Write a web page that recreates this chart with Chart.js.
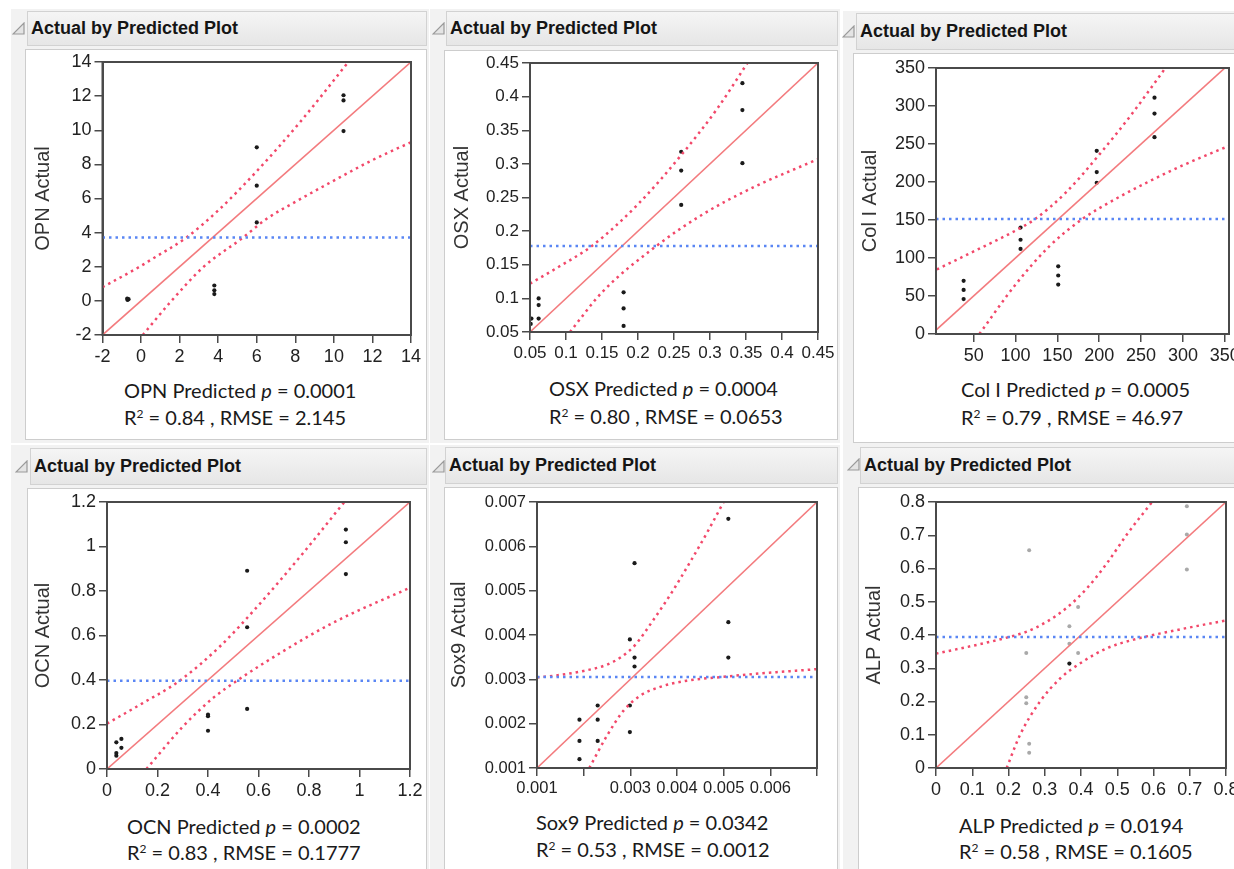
<!DOCTYPE html>
<html lang="en">
<head>
<meta charset="UTF-8">
<title>Actual by Predicted Plots</title>
<script src="https://cdn.jsdelivr.net/npm/chart.js"></script>
<style>
  body { margin:0; background:#fff; width:1234px; height:869px; overflow:hidden; position:relative; font-family:'Liberation Sans', Arial, sans-serif; }
  .outer { position:absolute; background:#f2f2f2; }
  .head { position:absolute; box-sizing:border-box; border:1px solid #d2d2d2; background:linear-gradient(#f5f5f5,#e6e6e6); font-weight:bold; font-size:18px; color:#151515; padding-left:3px; }
  .box { position:absolute; box-sizing:border-box; background:#fff; border:1px solid #cdcdcd; }
  .tri { position:absolute; }
  canvas { position:absolute; }
  .stat { position:absolute; font-family:Lato, 'Open Sans', sans-serif; font-size:20px; line-height:20px; color:#1a1a1a; white-space:nowrap; }
  .stat sup { font-size:12px; line-height:0; vertical-align:7px; }
</style>
</head>
<body>
  <!-- top row -->
  <div class="outer" style="left:11px;top:9px;width:418px;height:434px"></div>
  <div class="outer" style="left:430px;top:9px;width:410px;height:434px"></div>
  <div class="outer" style="left:843px;top:11px;width:400px;height:434px"></div>
  <!-- bottom row -->
  <div class="outer" style="left:11px;top:445px;width:418px;height:430px"></div>
  <div class="outer" style="left:430px;top:445px;width:410px;height:430px"></div>
  <div class="outer" style="left:843px;top:445px;width:400px;height:430px"></div>

  <div class="head" style="left:27px;top:11px;width:400px;height:35px;line-height:33px">Actual by Predicted Plot</div>
  <div class="head" style="left:446px;top:11px;width:392px;height:35px;line-height:33px">Actual by Predicted Plot</div>
  <div class="head" style="left:856px;top:13px;width:390px;height:37px;line-height:35px">Actual by Predicted Plot</div>
  <div class="head" style="left:30px;top:448px;width:397px;height:37px;line-height:35px">Actual by Predicted Plot</div>
  <div class="head" style="left:445px;top:447px;width:393px;height:37px;line-height:35px">Actual by Predicted Plot</div>
  <div class="head" style="left:860px;top:447px;width:390px;height:37px;line-height:35px">Actual by Predicted Plot</div>

  <div class="box" style="left:25px;top:49px;width:402px;height:391px"></div>
  <div class="box" style="left:444px;top:50px;width:394px;height:390px"></div>
  <div class="box" style="left:853px;top:53px;width:400px;height:390px"></div>
  <div class="box" style="left:27px;top:488px;width:400px;height:400px"></div>
  <div class="box" style="left:444px;top:487px;width:394px;height:400px"></div>
  <div class="box" style="left:858px;top:487px;width:400px;height:400px"></div>

  <div class="stat" style="left:124px;top:380px">OPN Predicted <i>p</i> = 0.0001</div>
  <div class="stat" style="left:124px;top:407px">R<sup>2</sup> = 0.84 , RMSE = 2.145</div>
  <div class="stat" style="left:549px;top:378px">OSX Predicted <i>p</i> = 0.0004</div>
  <div class="stat" style="left:549px;top:406px">R<sup>2</sup> = 0.80 , RMSE = 0.0653</div>
  <div class="stat" style="left:961px;top:379px">Col I Predicted <i>p</i> = 0.0005</div>
  <div class="stat" style="left:961px;top:407px">R<sup>2</sup> = 0.79 , RMSE = 46.97</div>
  <div class="stat" style="left:127px;top:816px">OCN Predicted <i>p</i> = 0.0002</div>
  <div class="stat" style="left:127px;top:842px">R<sup>2</sup> = 0.83 , RMSE = 0.1777</div>
  <div class="stat" style="left:536px;top:812px">Sox9 Predicted <i>p</i> = 0.0342</div>
  <div class="stat" style="left:536px;top:839px">R<sup>2</sup> = 0.53 , RMSE = 0.0012</div>
  <div class="stat" style="left:959px;top:815px">ALP Predicted <i>p</i> = 0.0194</div>
  <div class="stat" style="left:959px;top:841px">R<sup>2</sup> = 0.58 , RMSE = 0.1605</div>

  <script>
    // ---- OPN ----
    const opnTicks = [-2, 0, 2, 4, 6, 8, 10, 12, 14];
    const opnPoints = [[-0.7,0.05],[-0.65,0.1],[-0.72,0.13],[3.8,0.9],[3.8,0.62],[3.8,0.4],
                       [6.0,9.0],[6.0,6.75],[6.0,4.6],[10.5,12.05],[10.5,11.75],[10.5,9.95]];
    const opnUpper = [[-2,0.8],[0,2.05],[0.5,2.4],[2.36,3.72],[4,5.3],[6,7.6],[8.3,10.55],[10.75,14]];
    const opnLower = [[0.09,-2],[1.5,-0.1],[3.2,1.95],[5.3,3.72],[6.5,4.8],[8,5.8],[10,7.05],[12,8.25],[14,9.3]];
    const opnMean = 3.72;

    // ---- OSX ----
    const osxTicks = [0.05, 0.1, 0.15, 0.2, 0.25, 0.3, 0.35, 0.4, 0.45];
    const osxPoints = [[0.062,0.100],[0.062,0.090],[0.062,0.070],[0.052,0.070],[0.051,0.062],
                       [0.18,0.109],[0.18,0.085],[0.18,0.059],[0.26,0.318],[0.26,0.29],[0.26,0.239],
                       [0.345,0.42],[0.345,0.38],[0.345,0.301]];
    const osxUpper = [[0.05,0.122],[0.09,0.147],[0.136,0.178],[0.2,0.24],[0.26,0.313],[0.31,0.382],[0.352,0.45]];
    const osxLower = [[0.1055,0.05],[0.15,0.109],[0.2257,0.178],[0.29,0.225],[0.36,0.265],[0.45,0.307]];
    const osxMean = 0.178;

    // ---- Col I ----
    const colXTicks = [50, 100, 150, 200, 250, 300, 350];
    const colYTicks = [0, 50, 100, 150, 200, 250, 300, 350];
    const colPoints = [[38,70],[38,58],[38,46],[106,140],[106,124],[106,112],[151,89],[151,77],[151,65],
                       [197,241],[197,213],[197,199],[266,311],[266,290],[266,259]];
    const colUpper = [[6,85],[60,114],[100,136],[123.5,151.4],[160,186],[200,236],[240,291],[279,350]];
    const colLower = [[56.8,0],[100,65],[140,115],[180,151.4],[220,178],[260,201],[300,222],[356,248]];
    const colMean = 151.4;

    // ---- OCN ----
    const ocnTicks = [0, 0.2, 0.4, 0.6, 0.8, 1, 1.2];
    const ocnPoints = [[0.037,0.12],[0.057,0.135],[0.057,0.095],[0.037,0.072],[0.037,0.06],
                       [0.4,0.244],[0.4,0.237],[0.4,0.172],[0.555,0.891],[0.555,0.637],[0.555,0.27],
                       [0.946,1.076],[0.946,1.019],[0.946,0.876]];
    const ocnUpper = [[0,0.204],[0.14,0.295],[0.288,0.397],[0.45,0.554],[0.6,0.736],[0.78,0.975],[0.94,1.2]];
    const ocnLower = [[0.156,0],[0.3,0.19],[0.42,0.319],[0.515,0.397],[0.7,0.531],[0.9,0.66],[1.2,0.815]];
    const ocnMean = 0.397;

    // ---- Sox9 ----
    const soxTicks = [0.001, 0.002, 0.003, 0.004, 0.005, 0.006, 0.007];
    const soxXLabels = ['0.001', '', '0.003', '0.004', '0.005', '0.006', ''];
    const soxPoints = [[0.00191,0.00209],[0.00191,0.00161],[0.00191,0.0012],[0.0023,0.00241],[0.0023,0.00209],
                       [0.0023,0.00161],[0.00299,0.0039],[0.00299,0.00241],[0.00299,0.00181],[0.00309,0.00562],
                       [0.00309,0.00349],[0.00309,0.00329],[0.0051,0.00662],[0.0051,0.00429],[0.0051,0.00349]];
    const soxUpper = [[0.001,0.00304],[0.0015,0.0031],[0.002,0.00319],[0.0025,0.00333],[0.0028,0.0035],
                      [0.0031,0.00377],[0.0035,0.00435],[0.0039,0.00498],[0.0043,0.00568],[0.00465,0.00632],[0.005,0.007]];
    const soxLower = [[0.00212,0.001],[0.0025,0.00173],[0.00286,0.0023],[0.00321,0.00263],[0.00364,0.00283],
                      [0.00421,0.00297],[0.00493,0.00305],[0.00564,0.00312],[0.007,0.00323]];
    const soxMean = 0.00305;

    // ---- ALP ----
    const alpTicks = [0, 0.1, 0.2, 0.3, 0.4, 0.5, 0.6, 0.7, 0.8];
    const alpPoints = [[0.368,0.314]];
    const alpExcluded = [[0.257,0.655],[0.249,0.346],[0.249,0.213],[0.249,0.195],[0.257,0.073],[0.257,0.046],
                         [0.368,0.426],[0.368,0.374],[0.392,0.484],[0.392,0.346],
                         [0.692,0.787],[0.692,0.702],[0.692,0.597]];
    const alpUpper = [[0,0.344],[0.103,0.368],[0.195,0.392],[0.25,0.41],[0.306,0.44],[0.361,0.482],
                      [0.416,0.54],[0.471,0.615],[0.527,0.703],[0.596,0.8]];
    const alpLower = [[0.195,0],[0.232,0.1],[0.287,0.2],[0.343,0.27],[0.398,0.315],[0.471,0.36],
                      [0.545,0.386],[0.656,0.413],[0.8,0.444]];
    const alpMean = 0.394;

    const xy = a => a.map(p => ({ x: p[0], y: p[1] }));
    const fmt = v => String(parseFloat(v.toFixed(6)));

    // dark frame round the plot area
    const frame = {
      id: 'frame',
      afterDraw(c) {
        const a = c.chartArea, ctx = c.ctx;
        ctx.save();
        ctx.strokeStyle = '#4a4a4a';
        ctx.lineWidth = 2;
        ctx.strokeRect(a.left, a.top, a.right - a.left, a.bottom - a.top);
        ctx.restore();
      }
    };

    function panel(p) {
      const [L, T, R, B] = p.plot;
      const yW = p.gap + 12;
      const cv = document.createElement('canvas');
      cv.width = R - L + yW + 20;
      cv.height = B - T + 14 + 40;
      cv.style.left = (L - yW) + 'px';
      cv.style.top = (T - 14) + 'px';
      document.body.appendChild(cv);

      const tickFont = { family: "'Liberation Sans', Arial, sans-serif", size: p.tickSize || 18 };
      const dotted = { borderWidth: 2.5, borderDash: [2.5, 4], pointRadius: 0, fill: false };
      const xLabels = p.xLabels || p.xTicks.map(fmt);
      const yLabels = p.yTicks.map(fmt);

      const datasets = [
        { type: 'line', data: xy([[p.xMin, p.mean], [p.xMax, p.mean]]), borderColor: '#5a86f4', ...dotted },
        { type: 'line', data: xy([[p.xMin, p.xMin], [p.xMax, p.xMax]]), borderColor: '#f37b7e', borderWidth: 1.6, pointRadius: 0 },
        { type: 'line', data: xy(p.upper), borderColor: '#f2486a', cubicInterpolationMode: 'monotone', ...dotted },
        { type: 'line', data: xy(p.lower), borderColor: '#f2486a', cubicInterpolationMode: 'monotone', ...dotted },
      ];
      if (p.grey) datasets.push({ data: xy(p.grey), backgroundColor: '#a9a9a9', pointRadius: 2, borderWidth: 0 });
      datasets.push({ data: xy(p.points), backgroundColor: '#1a1a1a', pointRadius: 2.1, borderWidth: 0 });

      new Chart(cv.getContext('2d'), {
        type: 'scatter',
        data: { datasets },
        options: {
          responsive: false, animation: false, events: [],
          layout: { padding: { top: 14, right: 20, left: 0, bottom: 0 } },
          plugins: { legend: { display: false }, tooltip: { enabled: false } },
          scales: {
            x: {
              type: 'linear', min: p.xMin, max: p.xMax,
              afterBuildTicks: s => { s.ticks = p.xTicks.map(v => ({ value: v })); },
              afterFit: s => { s.height = 40; },
              ticks: { autoSkip: false, maxRotation: 0, padding: 3, color: '#222', font: tickFont,
                       callback: (v, i) => xLabels[i] },
              grid: { drawOnChartArea: false, tickLength: 8, color: '#4a4a4a', lineWidth: 1.5 },
              border: { color: '#4a4a4a', width: 2 }
            },
            y: {
              type: 'linear', min: p.yMin, max: p.yMax,
              afterBuildTicks: s => { s.ticks = p.yTicks.map(v => ({ value: v })); },
              afterFit: s => { s.width = yW; },
              ticks: { autoSkip: false, padding: 3, color: '#222', font: tickFont,
                       callback: (v, i) => yLabels[i] },
              grid: { drawOnChartArea: false, tickLength: 8, color: '#4a4a4a', lineWidth: 1.5 },
              border: { color: '#4a4a4a', width: 2 },
              title: { display: true, text: p.title, color: '#333', padding: 0,
                       font: { family: "'Liberation Sans', Arial, sans-serif", size: 20 } }
            }
          }
        },
        plugins: [frame]
      });
    }

    panel({ plot: [102, 62, 411, 335], gap: 59.5, title: 'OPN Actual',
            xMin: -2, xMax: 14, yMin: -2, yMax: 14, xTicks: opnTicks, yTicks: opnTicks,
            points: opnPoints, upper: opnUpper, lower: opnLower, mean: opnMean });
    panel({ plot: [530, 63, 818, 332], gap: 68, title: 'OSX Actual', tickSize: 17,
            xMin: 0.05, xMax: 0.45, yMin: 0.05, yMax: 0.45, xTicks: osxTicks, yTicks: osxTicks,
            points: osxPoints, upper: osxUpper, lower: osxLower, mean: osxMean });
    panel({ plot: [936, 68, 1229, 334], gap: 66, title: 'Col I Actual',
            xMin: 5, xMax: 355, yMin: 0, yMax: 350, xTicks: colXTicks, yTicks: colYTicks,
            points: colPoints, upper: colUpper, lower: colLower, mean: colMean });
    panel({ plot: [107, 502, 410, 769], gap: 64, title: 'OCN Actual',
            xMin: 0, xMax: 1.2, yMin: 0, yMax: 1.2, xTicks: ocnTicks, yTicks: ocnTicks,
            points: ocnPoints, upper: ocnUpper, lower: ocnLower, mean: ocnMean });
    panel({ plot: [537, 502, 817, 768], gap: 78, title: 'Sox9 Actual', tickSize: 16.5,
            xMin: 0.001, xMax: 0.007, yMin: 0.001, yMax: 0.007, xTicks: soxTicks, yTicks: soxTicks,
            xLabels: soxXLabels, points: soxPoints, upper: soxUpper, lower: soxLower, mean: soxMean });
    panel({ plot: [936, 502, 1226, 768], gap: 62, title: 'ALP Actual',
            xMin: 0, xMax: 0.8, yMin: 0, yMax: 0.8, xTicks: alpTicks, yTicks: alpTicks,
            points: alpPoints, grey: alpExcluded, upper: alpUpper, lower: alpLower, mean: alpMean });

    // header triangles
    [[12, 22], [432, 22], [842, 25], [15, 460], [432, 460], [847, 458]].forEach(([x, y]) => {
      const s = document.createElementNS('http://www.w3.org/2000/svg', 'svg');
      s.setAttribute('width', 13); s.setAttribute('height', 13);
      s.setAttribute('class', 'tri');
      s.style.left = x + 'px'; s.style.top = y + 'px';
      s.innerHTML = '<polygon points="12,1 12,12 1,12" fill="#e4e4e4" stroke="#9a9a9a" stroke-width="1.2"/>';
      document.body.appendChild(s);
    });
  </script>
</body>
</html>
